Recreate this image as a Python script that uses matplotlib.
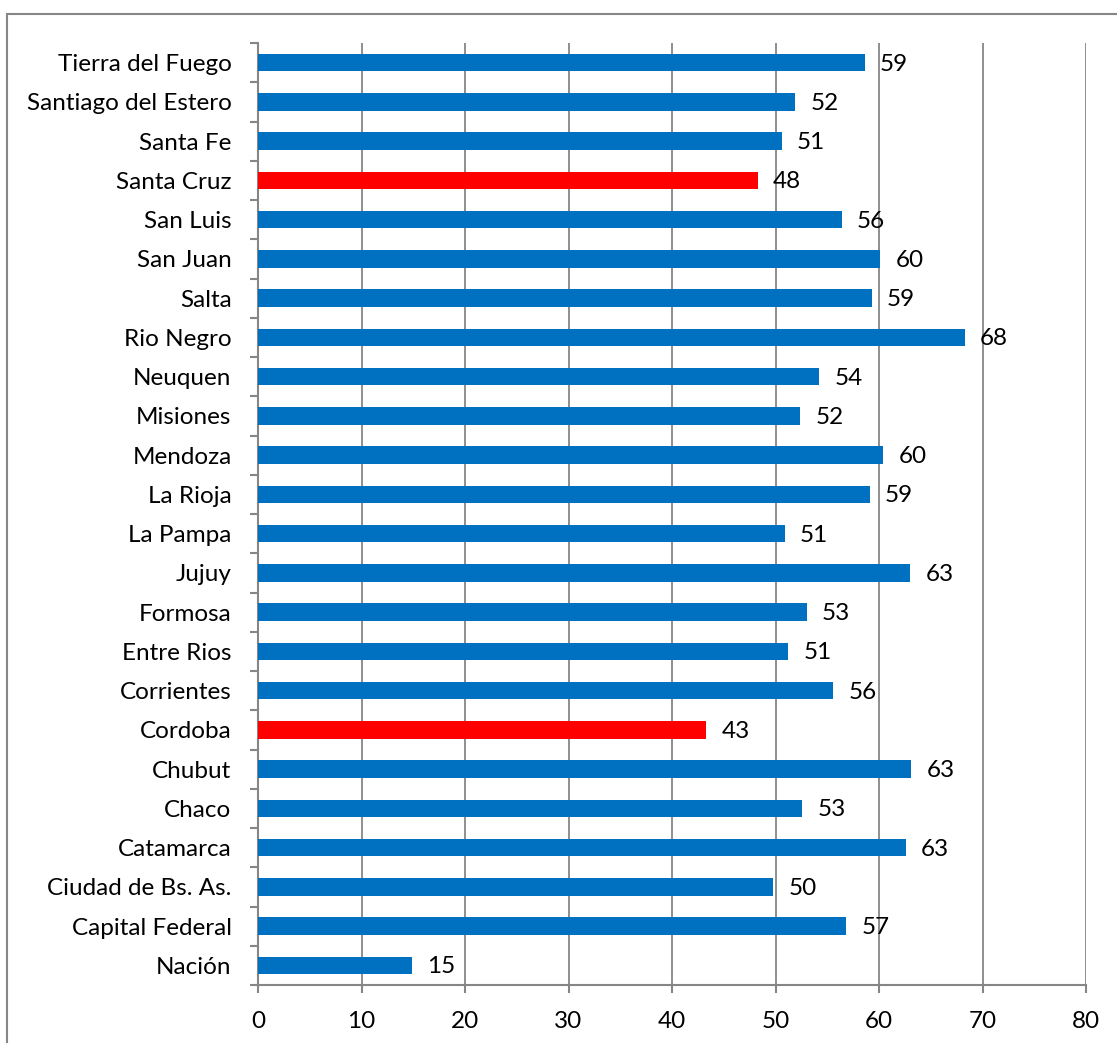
import matplotlib
matplotlib.use('Agg')
import matplotlib.pyplot as plt
from matplotlib.patches import Rectangle
from matplotlib.ticker import FixedLocator

provinces = ['Nación', 'Capital Federal', 'Ciudad de Bs. As.', 'Catamarca', 'Chaco',
             'Chubut', 'Cordoba', 'Corrientes', 'Entre Rios', 'Formosa', 'Jujuy',
             'La Pampa', 'La Rioja', 'Mendoza', 'Misiones', 'Neuquen', 'Rio Negro',
             'Salta', 'San Juan', 'San Luis', 'Santa Cruz', 'Santa Fe',
             'Santiago del Estero', 'Tierra del Fuego']
values = [14.9, 56.8, 49.8, 62.6, 52.6, 63.1, 43.3, 55.6, 51.2, 53.0, 63.0,
          50.9, 59.1, 60.4, 52.4, 54.2, 68.3, 59.3, 60.1, 56.4, 48.3, 50.6,
          51.9, 58.6]
highlight = ['Cordoba', 'Santa Cruz']

blue = '#0070C0'
red = '#FF0000'
grey = '#868686'

plt.rcParams['font.family'] = ['Lato', 'DejaVu Sans']
fs = 17.5

fig = plt.figure(figsize=(11.17, 10.43), dpi=100)
ax = fig.add_axes([258 / 1117, 1 - 985 / 1043, (1086 - 258) / 1117, (985 - 43) / 1043])

ypos = list(range(len(provinces)))
colors = [red if p in highlight else blue for p in provinces]
ax.barh(ypos, values, height=0.44, color=colors, zorder=3)

for y, v in zip(ypos, values):
    ax.annotate(f'{v:.0f}', (v, y), xytext=(11, -1), textcoords='offset points',
                va='center', ha='left', fontsize=fs, color='black', zorder=4)

ax.set_xlim(0, 80)
ax.set_ylim(-0.5, len(provinces) - 0.5)
ax.set_xticks(range(0, 81, 10))
ax.set_yticks(ypos)
ax.set_yticklabels(provinces)
ax.yaxis.set_minor_locator(FixedLocator([i - 0.5 for i in range(len(provinces) + 1)]))

ax.grid(axis='x', color=grey, linewidth=1.3, zorder=0)
for s in ['top', 'right']:
    ax.spines[s].set_visible(False)
for s in ['left', 'bottom']:
    ax.spines[s].set_color(grey)
    ax.spines[s].set_linewidth(1.5)

ax.tick_params(axis='x', length=6, width=1.5, color=grey, labelsize=fs, pad=13)
ax.tick_params(axis='y', which='major', length=0, labelsize=fs, pad=19)
ax.tick_params(axis='y', which='minor', length=6, width=1.5, color=grey)

fig.patches.append(Rectangle((7 / 1117, -0.1), 1.2, 1 - 14 / 1043 + 0.1,
                             transform=fig.transFigure, fill=False,
                             edgecolor=grey, linewidth=1.5))

fig.savefig('out.png', dpi=100)
